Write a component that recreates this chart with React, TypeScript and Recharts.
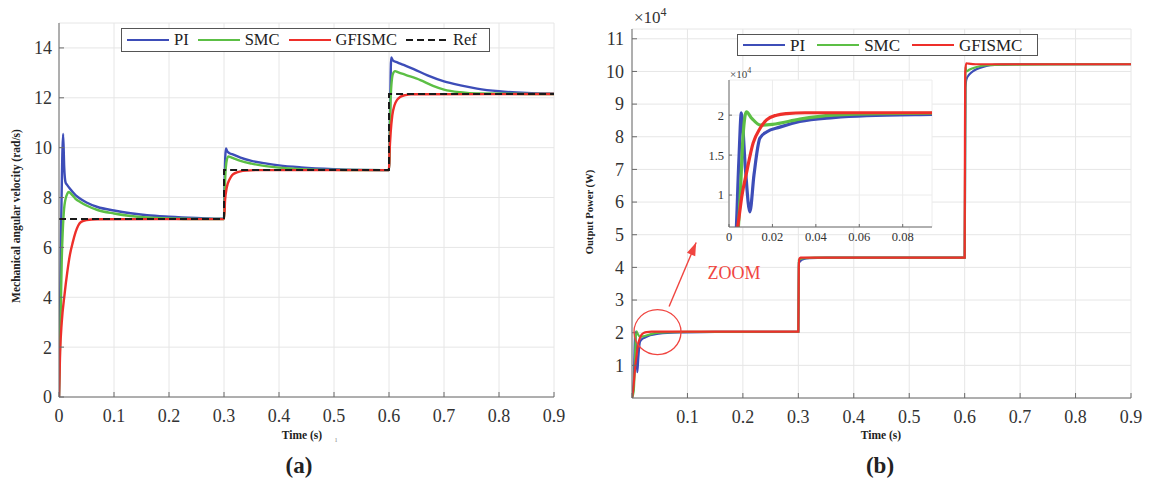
import React from 'react';
import { LineChart, Line, XAxis, YAxis, CartesianGrid, ReferenceDot, ReferenceLine } from 'recharts';

const FONT = '"Liberation Serif", "Times New Roman", Times, serif';
const BLUE = '#3d4db8';
const GREEN = '#5cbf45';
const RED = '#ee2f2a';
const AXIS = '#6a6a6a';
const GRID = '#e6e6e6';

// ---------- (a) Mechanical angular velocity (rad/s) vs time (s) ----------
const speedPI: [number, number][] = [
  [0, 0], [0.004, 7.0], [0.0075, 10.55], [0.0095, 9.2], [0.012, 8.6], [0.015, 8.5], [0.02, 8.35],
  [0.03, 8.1], [0.04, 7.93], [0.05, 7.8], [0.07, 7.62], [0.1, 7.48], [0.13, 7.37], [0.16, 7.29],
  [0.2, 7.23], [0.25, 7.18], [0.3, 7.15],
  [0.301, 8.5], [0.3035, 9.97], [0.306, 9.85], [0.31, 9.78], [0.317, 9.72], [0.33, 9.6], [0.35, 9.47],
  [0.378, 9.36], [0.4, 9.29], [0.44, 9.21], [0.5, 9.14], [0.55, 9.11], [0.6, 9.1],
  [0.602, 11.5], [0.604, 13.62], [0.607, 13.5], [0.615, 13.42], [0.625, 13.33], [0.645, 13.15],
  [0.67, 12.9], [0.7, 12.66], [0.73, 12.5], [0.76, 12.37], [0.8, 12.26], [0.85, 12.19], [0.9, 12.16],
];
const speedSMC: [number, number][] = [
  [0, 0], [0.005, 5.5], [0.01, 7.7], [0.015, 8.15], [0.018, 8.22], [0.022, 8.15], [0.03, 7.95],
  [0.04, 7.8], [0.05, 7.68], [0.07, 7.5], [0.1, 7.36], [0.13, 7.26], [0.16, 7.2], [0.2, 7.16],
  [0.25, 7.14], [0.3, 7.14],
  [0.302, 8.7], [0.305, 9.5], [0.308, 9.65], [0.312, 9.62], [0.32, 9.55], [0.33, 9.47], [0.35, 9.36],
  [0.37, 9.28], [0.4, 9.2], [0.44, 9.14], [0.5, 9.11], [0.6, 9.1],
  [0.603, 12.0], [0.607, 12.95], [0.611, 13.07], [0.617, 13.02], [0.63, 12.92], [0.657, 12.71],
  [0.68, 12.48], [0.7, 12.33], [0.73, 12.22], [0.76, 12.17], [0.9, 12.15],
];
const speedGFISMC: [number, number][] = [
  [0, 0], [0.002, 1.8], [0.005, 3.0], [0.01, 4.1], [0.015, 5.0], [0.02, 5.72], [0.025, 6.2],
  [0.03, 6.6], [0.035, 6.88], [0.04, 7.02], [0.05, 7.1], [0.07, 7.13], [0.3, 7.14],
  [0.302, 7.9], [0.305, 8.4], [0.31, 8.72], [0.315, 8.9], [0.32, 8.98], [0.33, 9.05], [0.34, 9.08],
  [0.36, 9.1], [0.6, 9.1],
  [0.601, 9.8], [0.603, 10.6], [0.606, 11.3], [0.61, 11.7], [0.615, 11.93], [0.62, 12.03],
  [0.63, 12.11], [0.64, 12.14], [0.9, 12.15],
];
const speedRef: [number, number][] = [
  [0, 7.14], [0.3, 7.14], [0.3, 9.1], [0.6, 9.1], [0.6, 12.15], [0.9, 12.15],
];

// ---------- (b) Output Power (W) vs time (s) ----------
const powerPI: [number, number][] = [
  [0, 0], [0.003, 4000], [0.0045, 14000], [0.0057, 20300], [0.0075, 13500], [0.0096, 7900],
  [0.0115, 12500], [0.0142, 17100], [0.0173, 17900], [0.0234, 18500], [0.0326, 19200],
  [0.048, 19700], [0.0634, 19950], [0.094, 20100], [0.15, 20250], [0.3, 20300],
  [0.3005, 30000], [0.301, 41500], [0.303, 41800], [0.306, 42300], [0.31, 42600], [0.32, 42850],
  [0.35, 43000], [0.6, 43000],
  [0.6008, 70000], [0.6015, 95000], [0.603, 97500], [0.608, 99000], [0.617, 100300], [0.63, 101200],
  [0.646, 101900], [0.67, 102100], [0.7, 102200], [0.9, 102200],
];
const powerSMC: [number, number][] = [
  [0, 0], [0.003, 2000], [0.005, 9000], [0.0065, 17500], [0.008, 20400], [0.0105, 19600],
  [0.0145, 18750], [0.02, 18850], [0.0326, 19500], [0.048, 20000], [0.07, 20200], [0.1, 20250],
  [0.3, 20300],
  [0.3005, 32000], [0.301, 42200], [0.304, 42600], [0.31, 42850], [0.33, 43000], [0.6, 43000],
  [0.6008, 75000], [0.6015, 101500], [0.603, 100000], [0.608, 100500], [0.62, 101300],
  [0.64, 101900], [0.67, 102100], [0.9, 102200],
];
const powerGFISMC: [number, number][] = [
  [0, 0], [0.002, 2500], [0.0045, 7000], [0.006, 10000], [0.008, 12700], [0.0111, 16500],
  [0.0142, 18300], [0.0173, 19400], [0.0219, 20000], [0.0265, 20200], [0.035, 20300], [0.3, 20300],
  [0.3008, 40000], [0.302, 42700], [0.304, 43000], [0.6, 43000],
  [0.6005, 80000], [0.601, 100000], [0.603, 102500], [0.607, 102400], [0.62, 102200], [0.9, 102200],
];

// ticks
const timeTicks = [0, 0.1, 0.2, 0.3, 0.4, 0.5, 0.6, 0.7, 0.8, 0.9];
const speedTicks = [0, 2, 4, 6, 8, 10, 12, 14];
const powerTicks = [10000, 20000, 30000, 40000, 50000, 60000, 70000, 80000, 90000, 100000, 110000];
const insetTimeTicks = [0, 0.02, 0.04, 0.06, 0.08];
const insetPowerTicks = [10000, 15000, 20000];

// annotation anchors (data coordinates of the "ZOOM" marker)
const zoomCircle = { t: 0.046, p: 20200 };
const zoomArrowFrom = { t: 0.0669, p: 28000 };
const zoomArrowTo = { t: 0.1157, p: 47600 };
const zoomText = { t: 0.184, p: 38400 };

const toPts = (a: [number, number][]) => a.map(([t, v]) => ({ t, v }));

const tickStyle = { fontFamily: FONT, fontSize: 18, fill: '#333' };
const insetTickStyle = { fontFamily: FONT, fontSize: 12.5, fill: '#333' };
const blank = () => '';

function Txt({ x, y, size, bold, rot, color, children }: any) {
  return (
    <div
      style={{
        position: 'absolute', left: x, top: y,
        transform: `translate(-50%,-50%)${rot ? ' rotate(-90deg)' : ''}`,
        fontSize: size, fontWeight: bold ? 700 : 400, fontFamily: FONT,
        whiteSpace: 'nowrap', lineHeight: 1, color: color || '#222',
      }}
    >
      {children}
    </div>
  );
}

type LegItem = { label: string; color: string; dashed?: boolean };

function LegendBox({ left, top, height, items, fontSize, gap }: { left: number; top: number; height: number; items: LegItem[]; fontSize: number; gap: number }) {
  return (
    <div
      style={{
        position: 'absolute', left, top, height, boxSizing: 'border-box',
        border: '1.3px solid #555', background: '#fff', display: 'flex', alignItems: 'center',
        padding: '0 3px 0 5px', fontFamily: FONT, fontSize, color: '#222',
      }}
    >
      {items.map((it) => (
        <div key={it.label} style={{ display: 'flex', alignItems: 'center', marginRight: gap }}>
          <svg width={42} height={8}>
            <line x1={0} y1={4} x2={42} y2={4} stroke={it.color} strokeWidth={2}
              strokeDasharray={it.dashed ? '7 4' : undefined} />
          </svg>
          <span style={{ marginLeft: 5, lineHeight: 1 }}>{it.label}</span>
        </div>
      ))}
    </div>
  );
}

function SpeedChart() {
  return (
    <div style={{ position: 'absolute', left: 0, top: 0 }}>
      <LineChart width={580} height={481} margin={{ top: 23, right: 26, bottom: 54, left: 0 }}>
        <CartesianGrid stroke={GRID} />
        <XAxis dataKey="t" type="number" domain={[0, 0.9]} ticks={timeTicks} interval={0}
          allowDataOverflow height={30} tick={tickStyle} tickSize={-5} tickMargin={17}
          stroke={AXIS} />
        <XAxis xAxisId="top" orientation="top" dataKey="t" type="number" domain={[0, 0.9]}
          ticks={timeTicks} interval={0} height={0} tickSize={-5} tickFormatter={blank} stroke={AXIS} />
        <YAxis type="number" domain={[0, 15]} ticks={speedTicks} interval={0} width={59}
          allowDataOverflow tick={tickStyle} tickSize={-5} tickMargin={12} stroke={AXIS} />
        <YAxis yAxisId="right" orientation="right" type="number" domain={[0, 15]} ticks={speedTicks}
          interval={0} width={0} tickSize={-5} tickFormatter={blank} stroke={AXIS} />
        <Line data={toPts(speedPI)} dataKey="v" type="monotone" stroke={BLUE} strokeWidth={2.4}
          dot={false} isAnimationActive={false} />
        <Line data={toPts(speedSMC)} dataKey="v" type="monotone" stroke={GREEN} strokeWidth={2.4}
          dot={false} isAnimationActive={false} />
        <Line data={toPts(speedGFISMC)} dataKey="v" type="monotone" stroke={RED} strokeWidth={2.4}
          dot={false} isAnimationActive={false} />
        <Line data={toPts(speedRef)} dataKey="v" type="linear" stroke="#1a1a1a" strokeWidth={2}
          strokeDasharray="7 4" dot={false} isAnimationActive={false} />
      </LineChart>
    </div>
  );
}

function PowerChart() {
  const red = '#f04540';
  return (
    <div style={{ position: 'absolute', left: 575, top: 0 }}>
      <LineChart width={574} height={481} margin={{ top: 29, right: 18, bottom: 53, left: 0 }}>
        <CartesianGrid stroke={GRID} />
        <XAxis dataKey="t" type="number" domain={[0, 0.9]} ticks={timeTicks} interval={0}
          allowDataOverflow height={30} tick={tickStyle} tickSize={-5} tickMargin={17}
          tickFormatter={(v: number) => (v === 0 ? '' : String(v))} stroke={AXIS} />
        <XAxis xAxisId="top" orientation="top" dataKey="t" type="number" domain={[0, 0.9]}
          ticks={timeTicks} interval={0} height={0} tickSize={-5} tickFormatter={blank} stroke={AXIS} />
        <YAxis type="number" domain={[0, 113000]} ticks={powerTicks} interval={0} width={57}
          allowDataOverflow tick={tickStyle} tickSize={-5} tickMargin={13}
          tickFormatter={(v: number) => String(v / 10000)} stroke={AXIS} />
        <YAxis yAxisId="right" orientation="right" type="number" domain={[0, 113000]} ticks={powerTicks}
          interval={0} width={0} tickSize={-5} tickFormatter={blank} stroke={AXIS} />
        <Line data={toPts(powerPI)} dataKey="v" type="monotone" stroke={BLUE} strokeWidth={2.2}
          dot={false} isAnimationActive={false} />
        <Line data={toPts(powerSMC)} dataKey="v" type="monotone" stroke={GREEN} strokeWidth={2.2}
          dot={false} isAnimationActive={false} />
        <Line data={toPts(powerGFISMC)} dataKey="v" type="monotone" stroke={RED} strokeWidth={2.2}
          dot={false} isAnimationActive={false} />
        <ReferenceDot x={zoomCircle.t} y={zoomCircle.p} r={1}
          shape={(p: any) => (
            <ellipse cx={p.cx} cy={p.cy} rx={23.5} ry={22.5} fill="none" stroke={red} strokeWidth={1.3} />
          )} />
        <ReferenceLine segment={[{ x: zoomArrowFrom.t, y: zoomArrowFrom.p }, { x: zoomArrowTo.t, y: zoomArrowTo.p }]}
          stroke={red} strokeWidth={1.4} />
        <ReferenceDot x={zoomArrowTo.t} y={zoomArrowTo.p} r={1}
          shape={(p: any) => {
            const ux = 0.389, uy = -0.921, nx = 0.921, ny = 0.389;
            const bx = p.cx - 13 * ux, by = p.cy - 13 * uy;
            return (
              <polygon
                points={`${p.cx},${p.cy} ${bx + 4.5 * nx},${by + 4.5 * ny} ${bx - 4.5 * nx},${by - 4.5 * ny}`}
                fill={red} />
            );
          }} />
        <ReferenceDot x={zoomText.t} y={zoomText.p} r={1}
          shape={(p: any) => (
            <text x={p.cx} y={p.cy} textAnchor="middle" dominantBaseline="central"
              fontFamily={FONT} fontSize={18} fill={red}>ZOOM</text>
          )} />
      </LineChart>
    </div>
  );
}

function InsetChart() {
  return (
    <div style={{ position: 'absolute', left: 688, top: 60 }}>
      <LineChart width={260} height={190} margin={{ top: 20, right: 16, bottom: 0, left: 0 }}>
        <CartesianGrid stroke="#ececec" fill="#fff" />
        <XAxis dataKey="t" type="number" domain={[0, 0.0935]} ticks={insetTimeTicks} interval={0}
          allowDataOverflow height={23} tick={insetTickStyle} tickSize={-3} tickMargin={8} stroke={AXIS} />
        <XAxis xAxisId="top" orientation="top" dataKey="t" type="number" domain={[0, 0.0935]}
          allowDataOverflow ticks={insetTimeTicks} interval={0} height={0} tickSize={-3}
          tickFormatter={blank} stroke={AXIS} />
        <YAxis type="number" domain={[6000, 24400]} ticks={insetPowerTicks} interval={0} width={41}
          allowDataOverflow tick={insetTickStyle} tickSize={-3} tickMargin={8}
          tickFormatter={(v: number) => String(v / 10000)} stroke={AXIS} />
        <YAxis yAxisId="right" orientation="right" type="number" domain={[6000, 24400]}
          allowDataOverflow ticks={insetPowerTicks} interval={0} width={0} tickSize={-3}
          tickFormatter={blank} stroke={AXIS} />
        <Line data={toPts(powerPI)} dataKey="v" type="monotone" stroke={BLUE} strokeWidth={3.2}
          dot={false} isAnimationActive={false} />
        <Line data={toPts(powerSMC)} dataKey="v" type="monotone" stroke={GREEN} strokeWidth={3.2}
          dot={false} isAnimationActive={false} />
        <Line data={toPts(powerGFISMC)} dataKey="v" type="monotone" stroke={RED} strokeWidth={3.2}
          dot={false} isAnimationActive={false} />
      </LineChart>
    </div>
  );
}

export default function App() {
  return (
    <div style={{ position: 'fixed', left: 0, top: 0, width: 1149, height: 481, background: '#fff', overflow: 'hidden' }}>
      <SpeedChart />
      <PowerChart />
      <InsetChart />

      <LegendBox left={121} top={28} height={24} fontSize={16.5} gap={9}
        items={[
          { label: 'PI', color: BLUE },
          { label: 'SMC', color: GREEN },
          { label: 'GFISMC', color: RED },
          { label: 'Ref', color: '#1a1a1a', dashed: true },
        ]} />
      <LegendBox left={737} top={34} height={22} fontSize={17} gap={12}
        items={[
          { label: 'PI', color: BLUE },
          { label: 'SMC', color: GREEN },
          { label: 'GFISMC', color: RED },
        ]} />

      <Txt x={17} y={216} size={11.5} bold rot>Mechanical angular velocity (rad/s)</Txt>
      <Txt x={302} y={436} size={11.5} bold>Time (s)</Txt>
      <Txt x={336} y={440} size={8} color="#999">ı</Txt>
      <Txt x={299} y={465} size={23} bold>(a)</Txt>

      <Txt x={590} y={212} size={10.6} bold rot>Output Power (W)</Txt>
      <Txt x={881} y={436} size={11.5} bold>Time (s)</Txt>
      <Txt x={880} y={465} size={23} bold>(b)</Txt>

      <div style={{ position: 'absolute', left: 634, top: 6, fontFamily: FONT, fontSize: 17, color: '#333', lineHeight: 1 }}>
        ×10<sup style={{ fontSize: 12 }}>4</sup>
      </div>
      <div style={{ position: 'absolute', left: 730, top: 67, fontFamily: FONT, fontSize: 11, color: '#444', lineHeight: 1 }}>
        ×10<sup style={{ fontSize: 8 }}>4</sup>
      </div>
    </div>
  );
}
